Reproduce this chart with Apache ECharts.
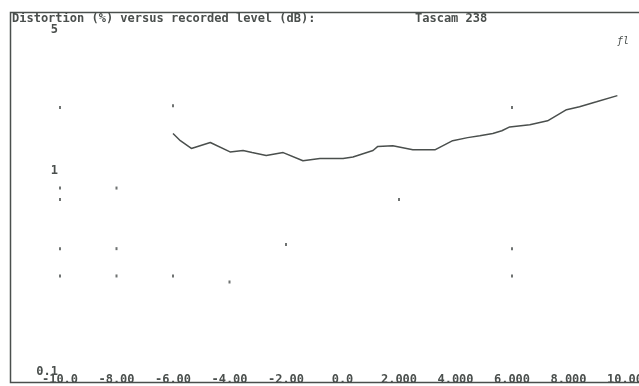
<!DOCTYPE html>
<html>
<head>
<meta charset="utf-8">
<script src="https://cdn.jsdelivr.net/npm/echarts@6/dist/echarts.min.js"></script>
<style>
  html, body { margin: 0; padding: 0; background: #fff; }
  #chart { width: 639px; height: 386px; }
</style>
</head>
<body>
<div id="chart"></div>
<script>
// recorded level (dB) vs distortion (%)
const levels = [-6.0, -5.74, -5.35, -4.68, -3.98, -3.52, -3.2, -2.7, -2.1, -1.4, -0.8, 0.02, 0.37,
  1.08, 1.25, 1.78, 2.49, 3.27, 3.9, 4.43, 4.86, 5.32, 5.64, 5.92, 6.63, 7.26, 7.93, 8.39, 8.99, 9.73]
const distortion = [1.53, 1.41, 1.29, 1.38, 1.24, 1.26, 1.23, 1.19, 1.23, 1.12, 1.15, 1.15, 1.17,
  1.26, 1.32, 1.33, 1.27, 1.27, 1.41, 1.46, 1.49, 1.53, 1.58, 1.65, 1.69, 1.77, 2.01, 2.08, 2.2, 2.36]

// stray plotter marks
const markX = [-10, -6, 6, -10, -8, -10, -10, -8, -2, -10, -8, -6, -4, 2, 6, 6]
const markY = [2.06, 2.1, 2.06, 0.82, 0.82, 0.72, 0.41, 0.41, 0.43, 0.3, 0.3, 0.3, 0.28, 0.72, 0.41, 0.3]

const xLabels = ['-10.0', '-8.00', '-6.00', '-4.00', '-2.00', '0.0', '2.000', '4.000', '6.000', '8.000', '10.00']
const yLabels = [0.1, 1, 5]

const ink = '#4a4f4d'
const mono = '"DejaVu Sans Mono", "Liberation Mono", monospace'

const chart = echarts.init(document.getElementById('chart'))

chart.setOption({
  backgroundColor: '#fff',
  animation: false,
  grid: { left: 60, right: 14, top: 30, bottom: 14, outerBoundsMode: 'none' },
  xAxis: {
    type: 'value',
    min: -10,
    max: 10,
    interval: 2,
    axisLine: { show: false },
    axisTick: { show: false },
    splitLine: { show: false },
    axisLabel: {
      margin: 2,
      color: ink,
      fontFamily: mono,
      fontWeight: 'bold',
      fontSize: 12,
      formatter: v => xLabels[Math.round((v + 10) / 2)]
    }
  },
  yAxis: {
    type: 'log',
    logBase: 10,
    min: 0.1,
    max: 5,
    axisLine: { show: false },
    axisTick: { show: false },
    splitLine: { show: false },
    axisLabel: {
      customValues: yLabels,
      margin: 2,
      color: ink,
      fontFamily: mono,
      fontWeight: 'bold',
      fontSize: 12,
      formatter: v => String(v)
    }
  },
  graphic: [
    {
      type: 'rect',
      shape: { x: 10.5, y: 12.5, width: 640, height: 370 },
      style: { fill: 'none', stroke: ink, lineWidth: 1.5 }
    },
    {
      type: 'text', left: 12, top: 13,
      style: { text: 'Distortion (%) versus recorded level (dB):', fill: ink, font: 'bold 12px ' + mono }
    },
    {
      type: 'text', left: 415, top: 13,
      style: { text: 'Tascam 238', fill: ink, font: 'bold 12px ' + mono }
    },
    {
      type: 'text', left: 617, top: 36,
      style: { text: 'ƒl', fill: ink, font: 'italic 10px ' + mono }
    }
  ],
  series: [
    {
      type: 'line',
      data: levels.map((x, i) => [x, distortion[i]]),
      showSymbol: false,
      lineStyle: { color: ink, width: 1.5 }
    },
    {
      type: 'scatter',
      data: markX.map((x, i) => [x, markY[i]]),
      symbol: 'rect',
      symbolSize: [2, 3],
      itemStyle: { color: ink }
    }
  ]
})
</script>
</body>
</html>
